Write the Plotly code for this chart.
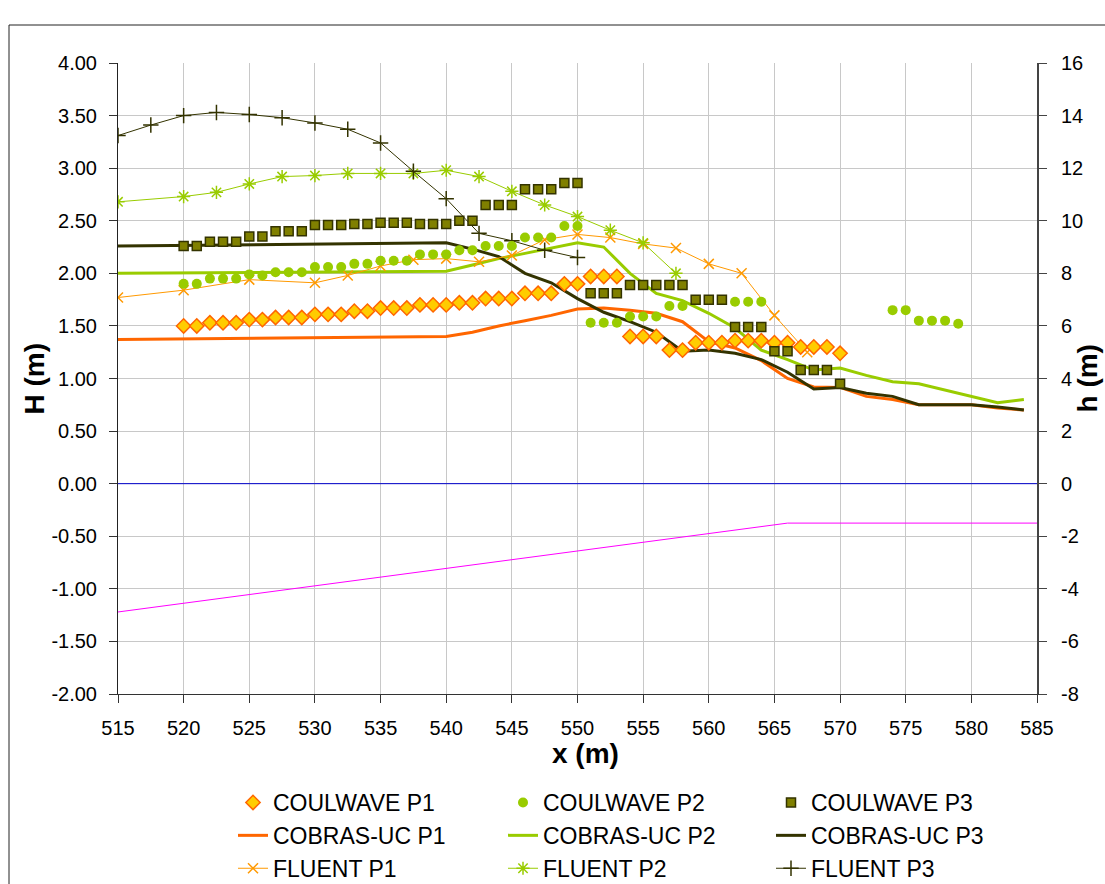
import plotly.graph_objects as go

# ---------------- data ----------------
cw_x = list(range(520, 571))
cw_p1 = [1.50, 1.50, 1.53, 1.53, 1.53, 1.56, 1.56, 1.58, 1.58, 1.58,
         1.61, 1.61, 1.61, 1.64, 1.64, 1.67, 1.67, 1.67, 1.70, 1.70,
         1.70, 1.72, 1.72, 1.76, 1.76, 1.76, 1.81, 1.81, 1.81, 1.90,
         1.90, 1.97, 1.97, 1.97, 1.40, 1.40, 1.40, 1.27, 1.27, 1.34,
         1.34, 1.34, 1.36, 1.36, 1.36, 1.34, 1.34, 1.30, 1.30, 1.30, 1.24]

cw_p2_x = [520, 521, 522, 523, 524, 525, 526, 527, 528, 529, 530, 531, 532, 533, 534,
           535, 536, 537, 538, 539, 540, 541, 542, 543, 544, 545, 546, 547, 548, 549,
           550, 551, 552, 553, 554, 555, 556, 557, 558, 562, 563, 564,
           574, 575, 576, 577, 578, 579]
cw_p2 = [1.90, 1.90, 1.95, 1.95, 1.95, 1.99, 1.98, 2.01, 2.01, 2.01, 2.06, 2.06, 2.06, 2.09, 2.09,
         2.12, 2.12, 2.12, 2.18, 2.18, 2.18, 2.22, 2.22, 2.26, 2.26, 2.26, 2.34, 2.34, 2.34, 2.45,
         2.45, 1.53, 1.53, 1.53, 1.59, 1.59, 1.59, 1.69, 1.69, 1.73, 1.73, 1.73,
         1.65, 1.65, 1.55, 1.55, 1.55, 1.52]

cw_p3 = [2.26, 2.26, 2.30, 2.30, 2.30, 2.35, 2.35, 2.40, 2.40, 2.40,
         2.46, 2.46, 2.46, 2.47, 2.47, 2.48, 2.48, 2.48, 2.47, 2.47,
         2.47, 2.50, 2.50, 2.65, 2.65, 2.65, 2.80, 2.80, 2.80, 2.86,
         2.86, 1.81, 1.81, 1.81, 1.89, 1.89, 1.89, 1.89, 1.89, 1.75,
         1.75, 1.75, 1.49, 1.49, 1.49, 1.26, 1.26, 1.08, 1.08, 1.08, 0.95]

cb_x = [515, 540, 542, 544, 546, 548, 550, 552, 554, 556, 558, 560,
        562, 564, 566, 568, 570, 572, 574, 576, 578, 580, 582, 584]
cb_p1 = [1.37, 1.40, 1.44, 1.50, 1.55, 1.60, 1.66, 1.67, 1.65, 1.62, 1.54, 1.35,
         1.29, 1.17, 1.00, 0.92, 0.915, 0.83, 0.80, 0.75, 0.75, 0.75, 0.72, 0.70]
cb_p2 = [2.00, 2.02, 2.08, 2.14, 2.19, 2.24, 2.29, 2.25, 2.00, 1.81, 1.74, 1.62,
         1.48, 1.27, 1.18, 1.08, 1.10, 1.03, 0.97, 0.95, 0.89, 0.83, 0.77, 0.80]
cb_p3 = [2.26, 2.29, 2.23, 2.16, 2.00, 1.91, 1.76, 1.63, 1.54, 1.44, 1.26, 1.27,
         1.24, 1.18, 1.06, 0.90, 0.915, 0.86, 0.83, 0.75, 0.75, 0.75, 0.73, 0.70]

fl_p1_x = [515, 520, 525, 530, 532.5, 535, 537.5, 540, 542.5, 545, 547.5, 550,
           552.5, 555, 557.5, 560, 562.5, 565, 567.5]
fl_p1 = [1.77, 1.84, 1.94, 1.91, 1.98, 2.07, 2.13, 2.14, 2.11, 2.17, 2.32, 2.37,
         2.34, 2.28, 2.24, 2.09, 2.00, 1.60, 1.25]
fl_p2_x = [515, 520, 522.5, 525, 527.5, 530, 532.5, 535, 537.5, 540, 542.5, 545,
           547.5, 550, 552.5, 555, 557.5]
fl_p2 = [2.68, 2.73, 2.77, 2.85, 2.92, 2.93, 2.95, 2.95, 2.95, 2.98, 2.92, 2.78,
         2.65, 2.54, 2.41, 2.29, 2.00]
fl_p3_x = [515, 517.5, 520, 522.5, 525, 527.5, 530, 532.5, 535, 537.5, 540, 542.5,
           545, 547.5, 550]
fl_p3 = [3.31, 3.41, 3.50, 3.53, 3.51, 3.48, 3.43, 3.37, 3.24, 2.97, 2.71, 2.38,
         2.31, 2.22, 2.15]

swl_x = [515, 585]
swl_h = [0, 0]
bed_x = [515, 566, 585]
bed_h = [-4.88, -1.50, -1.50]

x_ticks = list(range(515, 586, 5))
y_ticks = [-2.0, -1.5, -1.0, -0.5, 0.0, 0.5, 1.0, 1.5, 2.0, 2.5, 3.0, 3.5, 4.0]
y2_ticks = [-8, -6, -4, -2, 0, 2, 4, 6, 8, 10, 12, 14, 16]

# ---------------- colours ----------------
C1 = "#FF6600"
C1L = "#FF9900"
C2 = "#99CC00"
C3 = "#333300"
C3F = "#808000"

fig = go.Figure()

# reference lines
fig.add_trace(go.Scatter(x=bed_x, y=bed_h, yaxis="y2", mode="lines",
                         line=dict(color="#FF00FF", width=1), showlegend=False))
fig.add_trace(go.Scatter(x=swl_x, y=swl_h, mode="lines",
                         line=dict(color="#0000CC", width=1), showlegend=False))

# COBRAS-UC
fig.add_trace(go.Scatter(x=cb_x, y=cb_p1, mode="lines", name="COBRAS-UC P1",
                         line=dict(color=C1, width=3), legend="legend", legendrank=2))
fig.add_trace(go.Scatter(x=cb_x, y=cb_p2, mode="lines", name="COBRAS-UC P2",
                         line=dict(color=C2, width=3), legend="legend2", legendrank=2))
fig.add_trace(go.Scatter(x=cb_x, y=cb_p3, mode="lines", name="COBRAS-UC P3",
                         line=dict(color=C3, width=3), legend="legend3", legendrank=2))

# FLUENT
fig.add_trace(go.Scatter(x=fl_p1_x, y=fl_p1, mode="lines+markers", name="FLUENT P1",
                         line=dict(color=C1L, width=1),
                         marker=dict(symbol="x-thin-open", size=10, color=C1L,
                                     line=dict(color=C1L, width=1.5)),
                         legend="legend", legendrank=3))
fig.add_trace(go.Scatter(x=fl_p2_x, y=fl_p2, mode="lines+markers", name="FLUENT P2",
                         line=dict(color=C2, width=1),
                         marker=dict(symbol="asterisk-open", size=11, color=C2,
                                     line=dict(color=C2, width=1.5)),
                         legend="legend2", legendrank=3))
fig.add_trace(go.Scatter(x=fl_p3_x, y=fl_p3, mode="lines+markers", name="FLUENT P3",
                         line=dict(color=C3, width=1),
                         marker=dict(symbol="cross-thin-open", size=11, color=C3,
                                     line=dict(color=C3, width=1.5)),
                         legend="legend3", legendrank=3))

# COULWAVE
fig.add_trace(go.Scatter(x=cw_x, y=cw_p1, mode="markers", name="COULWAVE P1",
                         marker=dict(symbol="diamond", size=11, color="#FFCC00",
                                     line=dict(color=C1, width=1.5)),
                         legend="legend", legendrank=1))
fig.add_trace(go.Scatter(x=cw_p2_x, y=cw_p2, mode="markers", name="COULWAVE P2",
                         marker=dict(symbol="circle", size=10, color=C2,
                                     line=dict(width=0)),
                         legend="legend2", legendrank=1))
fig.add_trace(go.Scatter(x=cw_x, y=cw_p3, mode="markers", name="COULWAVE P3",
                         marker=dict(symbol="square", size=9, color=C3F,
                                     line=dict(color=C3, width=1.5)),
                         legend="legend3", legendrank=1))

FONT = "Liberation Sans, Arial, sans-serif"
W, H = 1105, 884
PL, PR, PT, PB = 118, 1037, 63, 694   # plot-area pixel box


def fx(p):
    return p / W


def fy(p):
    return (H - p) / H


def legend_col(px_left):
    return dict(orientation="v", x=fx(px_left), xanchor="left", y=fy(781),
                yanchor="top", font=dict(size=23), bgcolor="rgba(0,0,0,0)",
                traceorder="normal", itemwidth=30, tracegroupgap=0)


fig.update_layout(
    width=W, height=H, autosize=False,
    margin=dict(l=0, r=0, t=0, b=0, pad=0, autoexpand=False),
    paper_bgcolor="white", plot_bgcolor="white",
    font=dict(family=FONT, size=20, color="black"),
    xaxis=dict(domain=[fx(PL), fx(PR)], range=[515, 585], tickvals=x_ticks,
               ticks="outside", ticklen=8, automargin=False,
               tickcolor="#333333", showgrid=True, gridcolor="#C8C8C8", gridwidth=1,
               showline=True, linecolor="#333333", linewidth=1, zeroline=False,
               tickfont=dict(size=20), ticklabelstandoff=8),
    yaxis=dict(domain=[fy(PB), fy(PT)], range=[-2, 4], tickvals=y_ticks,
               ticktext=[f"{v:.2f}" for v in y_ticks], ticks="outside",
               ticklen=8, tickcolor="#333333", showgrid=True, gridcolor="#C8C8C8",
               showline=True, linecolor="#222222", linewidth=1, zeroline=False,
               tickfont=dict(size=20), ticklabelstandoff=8, automargin=False),
    yaxis2=dict(range=[-8, 16], tickvals=y2_ticks,
                ticktext=[str(v) for v in y2_ticks], overlaying="y", side="right",
                ticks="outside", ticklen=8, tickcolor="#444444", showgrid=False,
                showline=True, linecolor="#444444", linewidth=2, zeroline=False,
                tickfont=dict(size=20), ticklabelstandoff=10, automargin=False),
    legend=legend_col(233),
    legend2=legend_col(503),
    legend3=legend_col(771),
    annotations=[
        dict(text="<b>H (m)</b>", xref="paper", yref="paper", x=fx(34),
             y=fy((PT + PB) / 2), textangle=-90, showarrow=False, font=dict(size=28),
             xanchor="center", yanchor="middle"),
        dict(text="<b>h (m)</b>", xref="paper", yref="paper", x=fx(1087),
             y=fy((PT + PB) / 2), textangle=-90, showarrow=False, font=dict(size=28),
             xanchor="center", yanchor="middle"),
        dict(text="<b>x (m)</b>", xref="paper", yref="paper", x=fx(585), y=fy(753),
             showarrow=False, font=dict(size=28), xanchor="center", yanchor="middle"),
    ],
    shapes=[
        dict(type="rect", xref="paper", yref="paper",
             x0=fx(9), y0=fy(H + 40), x1=fx(W + 40), y1=fy(25),
             line=dict(color="#222222", width=1), fillcolor="rgba(0,0,0,0)",
             layer="below"),
    ],
)

fig.write_html("out.html")
